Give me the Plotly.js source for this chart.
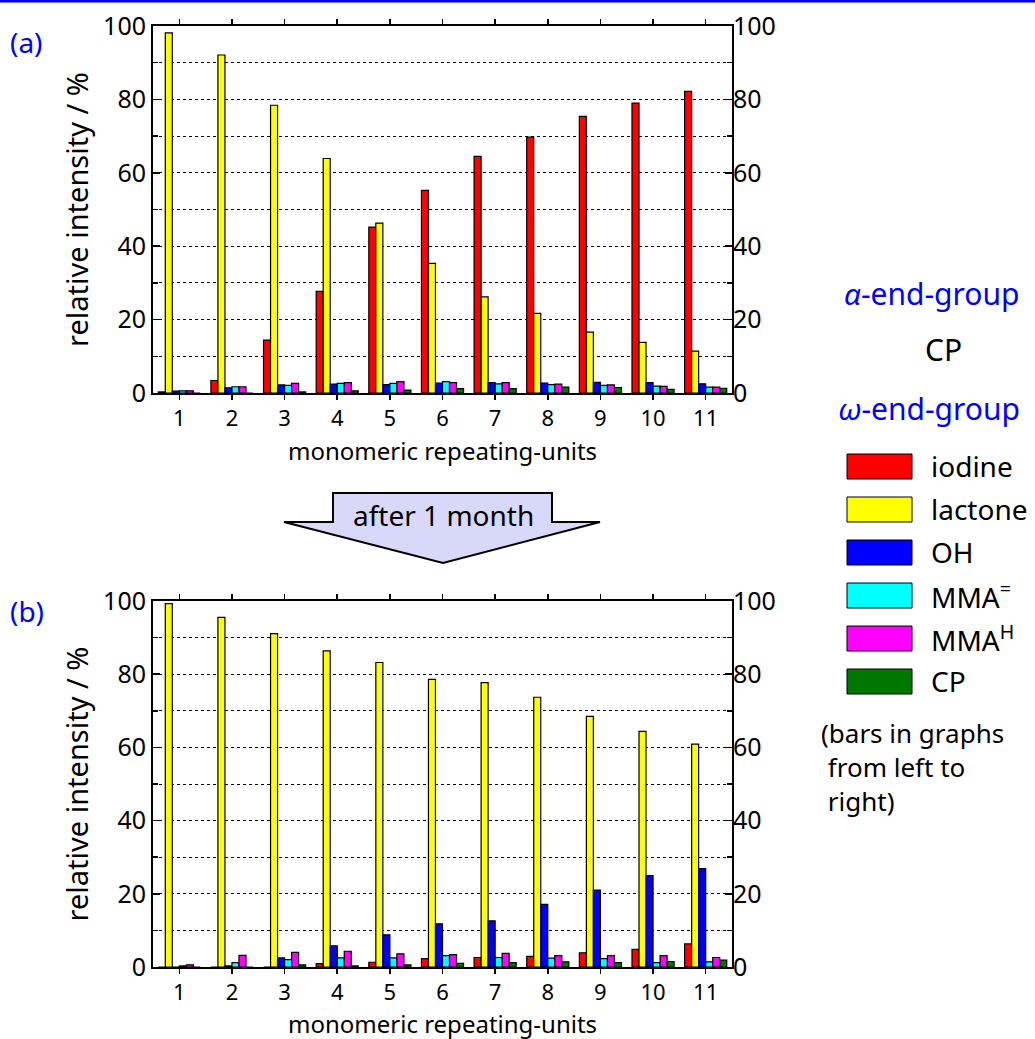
<!DOCTYPE html>
<html>
<head>
<meta charset="utf-8">
<script src="https://cdn.plot.ly/plotly-3.0.1.min.js"></script>
<style>html,body{margin:0;padding:0;background:#fff;}#chart{width:1035px;height:1039px;}</style>
</head>
<body>
<div id="chart"></div>
<script>
// ---- data ----
const units = [1, 2, 3, 4, 5, 6, 7, 8, 9, 10, 11];
const seriesNames = ["iodine", "lactone", "OH", "MMA<sup>=</sup>", "MMA<sup>H</sup>", "CP"];
const seriesColors = ["#ff0000", "#ffff00", "#0000ff", "#00ffff", "#ff00ff", "#007700"];

// (a) fresh sample
const a_iodine  = [0.3, 3.4, 14.4, 27.7, 45.2, 55.2, 64.5, 69.7, 75.4, 79.0, 82.2];
const a_lactone = [98.1, 92.1, 78.4, 63.9, 46.3, 35.3, 26.2, 21.7, 16.6, 13.8, 11.4];
const a_OH      = [0.5, 1.4, 2.2, 2.4, 2.3, 2.7, 2.8, 2.7, 2.9, 2.8, 2.5];
const a_MMAeq   = [0.6, 1.7, 2.1, 2.6, 2.6, 3.1, 2.5, 2.3, 2.1, 1.9, 1.6];
const a_MMAH    = [0.6, 1.7, 2.6, 2.8, 3.1, 2.8, 2.8, 2.4, 2.2, 1.8, 1.6];
const a_CP      = [0.0, 0.0, 0.3, 0.6, 0.8, 1.2, 1.2, 1.6, 1.5, 1.0, 1.3];

// (b) after 1 month
const b_iodine  = [0.0, 0.0, 0.0, 0.9, 1.3, 2.3, 2.6, 2.9, 3.9, 4.8, 6.3];
const b_lactone = [99.3, 95.5, 91.1, 86.4, 83.2, 78.6, 77.7, 73.7, 68.5, 64.4, 60.9];
const b_OH      = [0.0, 0.3, 2.5, 5.8, 8.8, 11.8, 12.6, 17.1, 21.0, 25.0, 26.9];
const b_MMAeq   = [0.3, 1.2, 2.0, 2.5, 2.5, 3.1, 2.6, 2.4, 2.3, 1.2, 1.4];
const b_MMAH    = [0.6, 3.2, 4.0, 4.3, 3.6, 3.4, 3.7, 3.1, 3.1, 3.1, 2.6];
const b_CP      = [0.0, 0.0, 0.6, 0.3, 0.6, 1.0, 1.2, 1.4, 1.2, 1.5, 1.9];

const yTicks = [0, 20, 40, 60, 80, 100];
const xTitle = "monomeric repeating-units";
const yTitle = "relative intensity / %";
const noteText = "(bars in graphs<br>&nbsp;from left to<br>&nbsp;right)";

// ---- geometry helpers (pixel -> paper) ----
const W = 1035, H = 1039;
const L = 153, R = 732, T = 26, B = 967;
const px = x => (x - L) / (R - L);
const py = y => (B - y) / (B - T);
const FONT = "Noto Sans, DejaVu Sans, sans-serif";

const setsA = [a_iodine, a_lactone, a_OH, a_MMAeq, a_MMAH, a_CP];
const setsB = [b_iodine, b_lactone, b_OH, b_MMAeq, b_MMAH, b_CP];

const traces = [];
setsA.forEach((vals, i) => traces.push({
  type: "bar", x: units, y: vals, name: seriesNames[i], xaxis: "x", yaxis: "y",
  marker: {color: seriesColors[i], line: {color: "#000", width: 1.2}}, showlegend: false, offsetgroup: String(i)
}));
setsB.forEach((vals, i) => traces.push({
  type: "bar", x: units, y: vals, name: seriesNames[i], xaxis: "x2", yaxis: "y2",
  marker: {color: seriesColors[i], line: {color: "#000", width: 1.2}}, showlegend: false, offsetgroup: String(i)
}));
// invisible traces to drive right-side axes
traces.push({type: "scatter", x: [1], y: [0], xaxis: "x", yaxis: "y3", mode: "none", showlegend: false, hoverinfo: "skip"});
traces.push({type: "scatter", x: [1], y: [0], xaxis: "x2", yaxis: "y4", mode: "none", showlegend: false, hoverinfo: "skip"});

const topDom = [py(393), 1];
const botDom = [0, py(601)];

function xAxis(anchor) {
  return {
    anchor: anchor, domain: [0, 1], range: [0.5, 11.5], tickvals: units, ticktext: units.map(String),
    ticks: "outside", ticklen: 5, tickwidth: 1.5, tickcolor: "#000",
    showline: true, linecolor: "#000", linewidth: 2, mirror: "ticks", showgrid: false, zeroline: false,
    tickfont: {family: FONT, size: 22, color: "#000"}
  };
}
function yAxis(dom) {
  return {
    domain: dom, range: [0, 100], tickvals: yTicks, ticks: "inside", ticklen: 7, tickwidth: 1.5, tickcolor: "#000",
    showline: true, linecolor: "#000", linewidth: 2, mirror: true, zeroline: false,
    showgrid: true, gridcolor: "#000", gridwidth: 1, griddash: "dot",
    minor: {dtick: 10, tick0: 0, ticks: "inside", ticklen: 5, tickcolor: "#000", showgrid: true, gridcolor: "#000", gridwidth: 1, griddash: "dot"},
    tickfont: {family: FONT, size: 25, color: "#000"},
    title: {text: yTitle, font: {family: FONT, size: 29, color: "#000"}, standoff: 6}
  };
}
function yRight(over) {
  return {
    overlaying: over, side: "right", anchor: over === "y" ? "x" : "x2", range: [0, 100], tickvals: yTicks,
    ticks: "inside", ticklen: 7, tickwidth: 1.5, tickcolor: "#000", showline: false, showgrid: false, zeroline: false,
    minor: {dtick: 10, tick0: 0, ticks: "inside", ticklen: 5, tickcolor: "#000", showgrid: false},
    tickfont: {family: FONT, size: 25, color: "#000"}
  };
}

const shapes = [];
const annotations = [];

// x-axis titles
[450, 1023].forEach(yy => annotations.push({xref: "paper", yref: "paper", x: px(442), y: py(yy), text: xTitle, showarrow: false,
  xanchor: "center", yanchor: "middle", borderpad: 0, font: {family: FONT, size: 24, color: "#000"}}));

// blue rule at top
shapes.push({type: "line", xref: "paper", yref: "paper", x0: px(0), x1: px(W), y0: py(1), y1: py(1), line: {color: "#0000ff", width: 3}});

// arrow
const arrowPts = [[333, 493], [552, 493], [552, 522], [600, 522], [443, 563], [284, 522], [333, 522]];
let path = arrowPts.map((p, i) => (i ? "L" : "M") + px(p[0]) + "," + py(p[1])).join(" ") + " Z";
shapes.push({type: "path", xref: "paper", yref: "paper", path: path, fillcolor: "#d8d8fa", line: {color: "#000", width: 2}});
annotations.push({xref: "paper", yref: "paper", x: px(443), y: py(515), text: "after 1 month", showarrow: false,
  font: {family: FONT, size: 28, color: "#000"}, xanchor: "center", yanchor: "middle"});

// panel labels
annotations.push({xref: "paper", yref: "paper", x: px(8), y: py(42), text: "(a)", showarrow: false, xanchor: "left", yanchor: "middle",
  font: {family: FONT, size: 28, color: "#0000ff"}});
annotations.push({xref: "paper", yref: "paper", x: px(8), y: py(611), text: "(b)", showarrow: false, xanchor: "left", yanchor: "middle",
  font: {family: FONT, size: 28, color: "#0000ff"}});

// end-group notes
annotations.push({xref: "paper", yref: "paper", x: px(1022), y: py(293), text: "<i>α</i>-end-group", showarrow: false, xanchor: "right", yanchor: "middle",
  font: {family: FONT, size: 30, color: "#0000ff"}});
annotations.push({xref: "paper", yref: "paper", x: px(944), y: py(350), text: "CP", showarrow: false, xanchor: "center", yanchor: "middle",
  font: {family: FONT, size: 30, color: "#000"}});
annotations.push({xref: "paper", yref: "paper", x: px(1022), y: py(408), text: "<i>ω</i>-end-group", showarrow: false, xanchor: "right", yanchor: "middle",
  font: {family: FONT, size: 30, color: "#0000ff"}});

// legend
seriesNames.forEach((nm, i) => {
  const cy = 466 + i * 43;
  shapes.push({type: "rect", xref: "paper", yref: "paper", x0: px(847), x1: px(912), y0: py(cy - 12), y1: py(cy + 13),
    fillcolor: seriesColors[i], line: {color: "#000", width: 1}});
  annotations.push({xref: "paper", yref: "paper", x: px(929), y: py(cy), text: nm, showarrow: false, xanchor: "left", yanchor: "middle",
    font: {family: FONT, size: 28, color: "#000"}});
});
annotations.push({xref: "paper", yref: "paper", x: px(819), y: py(767), text: noteText, showarrow: false, align: "left",
  xanchor: "left", yanchor: "middle", font: {family: FONT, size: 26, color: "#000"}});

const layout = {
  width: W, height: H, paper_bgcolor: "#fff", plot_bgcolor: "#fff",
  margin: {l: L, r: W - R, t: T, b: H - B},
  barmode: "group", bargap: 0.2, bargroupgap: 0,
  showlegend: false,
  xaxis: xAxis("y"), xaxis2: xAxis("y2"),
  yaxis: yAxis(topDom), yaxis2: yAxis(botDom),
  yaxis3: yRight("y"), yaxis4: yRight("y2"),
  shapes: shapes, annotations: annotations,
  font: {family: FONT, color: "#000"}
};

Plotly.newPlot("chart", traces, layout, {displayModeBar: false, staticPlot: true});
</script>
</body>
</html>
